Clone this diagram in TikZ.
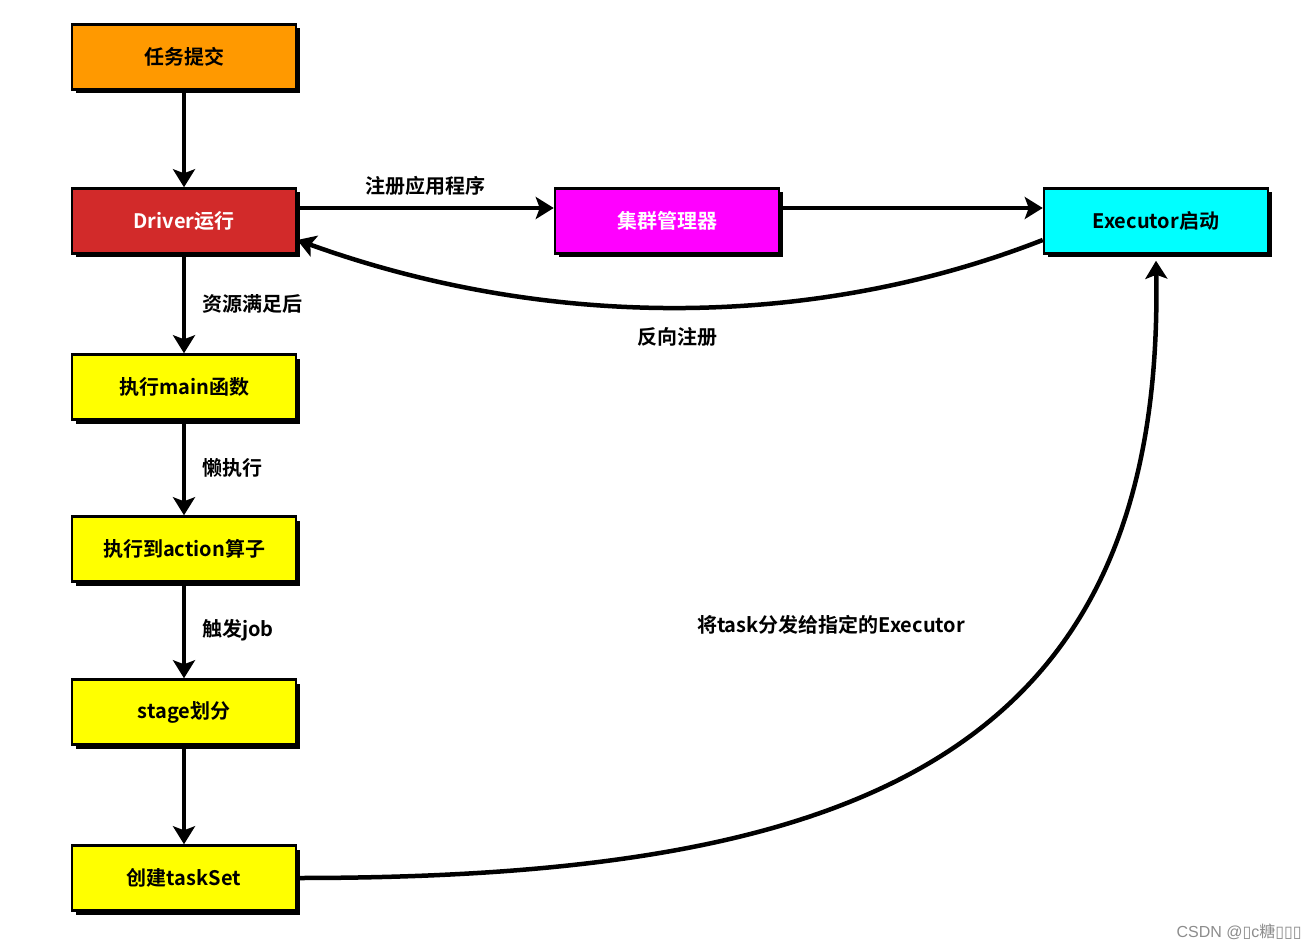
\documentclass[tikz,border=0pt]{standalone}
\usepackage{fontspec}
\setmainfont{Noto Sans CJK SC}[BoldFont={Noto Sans CJK SC Bold}]
\newfontfamily\marksans{Liberation Sans}
\newfontfamily\markbox{DejaVu Sans}
\usetikzlibrary{arrows.meta,shadows}
\definecolor{submitorange}{RGB}{255,153,0}
\definecolor{driverred}{RGB}{210,42,42}
\definecolor{clustermagenta}{RGB}{255,0,255}
\definecolor{execcyan}{RGB}{0,255,255}
\definecolor{stepyellow}{RGB}{255,255,0}
\tikzset{
  >={Stealth[length=18pt,width=22pt,inset=4pt]},
}
\tikzstyle{stepbox}=[draw,line width=2.5pt,minimum width=224pt,minimum height=65pt,
  font=\bfseries\fontsize{20}{21}\selectfont,
  drop shadow={shadow xshift=4pt,shadow yshift=-4pt,fill=black,opacity=1}]
\tikzstyle{flow}=[line width=4.5pt,->]
\tikzstyle{lbl}=[font=\bfseries\fontsize{20}{21}\selectfont]
\tikzstyle{every node}=[inner sep=2pt]

\begin{document}
\begin{tikzpicture}[x=1pt,y=-1pt]
    \useasboundingbox (0,0) rectangle (1312,952);
    % left column
    \node[stepbox,fill=submitorange] (submit) at (184,57) {任务提交};
    \node[stepbox,fill=driverred,text=white] (driver) at (184,221) {Driver运行};
    \node[stepbox,fill=stepyellow] (mainfn) at (184,387) {执行main函数};
    \node[stepbox,fill=stepyellow] (action) at (184,549) {执行到action算子};
    \node[stepbox,fill=stepyellow] (stage) at (184,712) {stage划分};
    \node[stepbox,fill=stepyellow] (taskset) at (184,878) {创建taskSet};
    % top row
    \node[stepbox,fill=clustermagenta,text=white] (cluster) at (667,221) {集群管理器};
    \node[stepbox,fill=execcyan] (exec) at (1156,221) {Executor启动};

    \draw[flow] (submit) -- (driver);
    \draw[flow] (driver) -- (mainfn) node[midway,lbl,right=14pt]{资源满足后};
    \draw[flow] (mainfn) -- (action) node[midway,lbl,right=14pt]{懒执行};
    \draw[flow] (action) -- (stage) node[midway,lbl,right=14pt]{触发job};
    \draw[flow] (stage) -- (taskset);

    \draw[flow] ([yshift=13pt]driver.east) -- ([yshift=13pt]cluster.west)
      node[midway,lbl,above=8pt]{注册应用程序};
    \draw[flow] ([yshift=13pt]cluster.east) -- ([yshift=13pt]exec.west);
    \draw[flow] ([yshift=-19pt]exec.west) .. controls +(-230,90) and +(250,90)
      .. ([yshift=-19pt]driver.east);
    \node[lbl] (backlbl) at (677,337) {反向注册};

    \draw[flow] (taskset.east) .. controls (850,878) and (1165,760)
      .. ([yshift=-6pt]exec.south);
    \node[lbl] (sendlbl) at (831,625) {将task分发给指定的Executor};

    \node[text=black!45,font=\fontsize{16}{16}\selectfont,anchor=east] (mark) at (1304,932)
      {\marksans CSDN @\markbox ▯\marksans c\rmfamily 糖\markbox ▯▯▯};
  \end{tikzpicture}
\end{document}
